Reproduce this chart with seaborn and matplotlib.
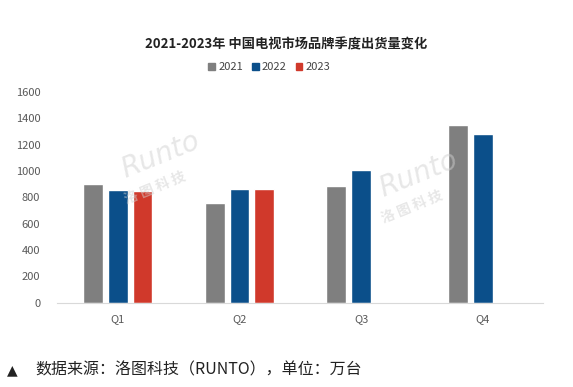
import pandas as pd
import numpy as np
import seaborn as sns
import matplotlib.pyplot as plt

# values (万台)
quarters = ["Q1", "Q2", "Q3", "Q4"]
years = ["2021", "2022", "2023"]
v2021 = [903, 757, 884, 1353]
v2022 = [857, 864, 1005, 1282]
v2023 = [851, 862, np.nan, np.nan]
yticks = [0, 200, 400, 600, 800, 1000, 1200, 1400, 1600]

colors = ["#7f7f7f", "#0b4f8a", "#d0392b"]

df = pd.DataFrame({
    "quarter": quarters * 3,
    "year": sum([[y] * 4 for y in years], []),
    "value": v2021 + v2022 + v2023,
})

sns.set_style("white")
plt.rcParams["font.family"] = ["Noto Sans CJK SC", "DejaVu Sans"]

fig = plt.figure(figsize=(5.73, 3.87), dpi=100)
ax = fig.add_axes([0.0995, 0.218, 0.849, 0.544])

sns.barplot(data=df, x="quarter", y="value", hue="year", palette=colors,
            saturation=1, width=0.61, gap=0.2, ax=ax, legend=False)

ax.set_ylim(0, 1600)
ax.set_yticks(yticks)
ax.set_xlabel("")
ax.set_ylabel("")
ax.set_xlim(-0.5, 3.5)
for s in ["top", "right", "left"]:
    ax.spines[s].set_visible(False)
ax.spines["bottom"].set_color("#d9d9d9")
ax.tick_params(axis="both", length=0, labelsize=8, colors="#595959", pad=8)
ax.tick_params(axis="y", pad=12)

# faint watermark
for x, y in [(0.28, 0.60), (0.73, 0.55)]:
    fig.text(x, y, "Runto", fontsize=20, style="italic", color="#d0d0d0",
             rotation=22, alpha=0.5, ha="center", va="center", family="DejaVu Sans")
    fig.text(x - 0.01, y - 0.085, "洛 图 科 技", fontsize=10, color="#d0d0d0",
             rotation=22, alpha=0.5, ha="center", va="center", fontweight="bold")

fig.text(0.5, 0.884, "2021-2023年 中国电视市场品牌季度出货量变化", fontsize=9.5,
         fontweight="bold", ha="center", va="center", color="#222222")

handles = [plt.Rectangle((0, 0), 1, 1, color=c) for c in colors]
fig.legend(handles, years, loc="center", bbox_to_anchor=(0.47, 0.827), ncol=3,
           frameon=False, fontsize=8, handlelength=0.6, handleheight=0.6,
           handletextpad=0.3, columnspacing=0.8, labelcolor="#444444")

fig.text(0.012, 0.044, "▲", fontsize=10, ha="left", va="center", color="#222222",
         family=["DejaVu Sans"])
fig.text(0.062, 0.044, "数据来源：洛图科技（RUNTO），单位：万台", fontsize=11.5,
         ha="left", va="center", color="#222222")

fig.savefig("out.png", dpi=100)
